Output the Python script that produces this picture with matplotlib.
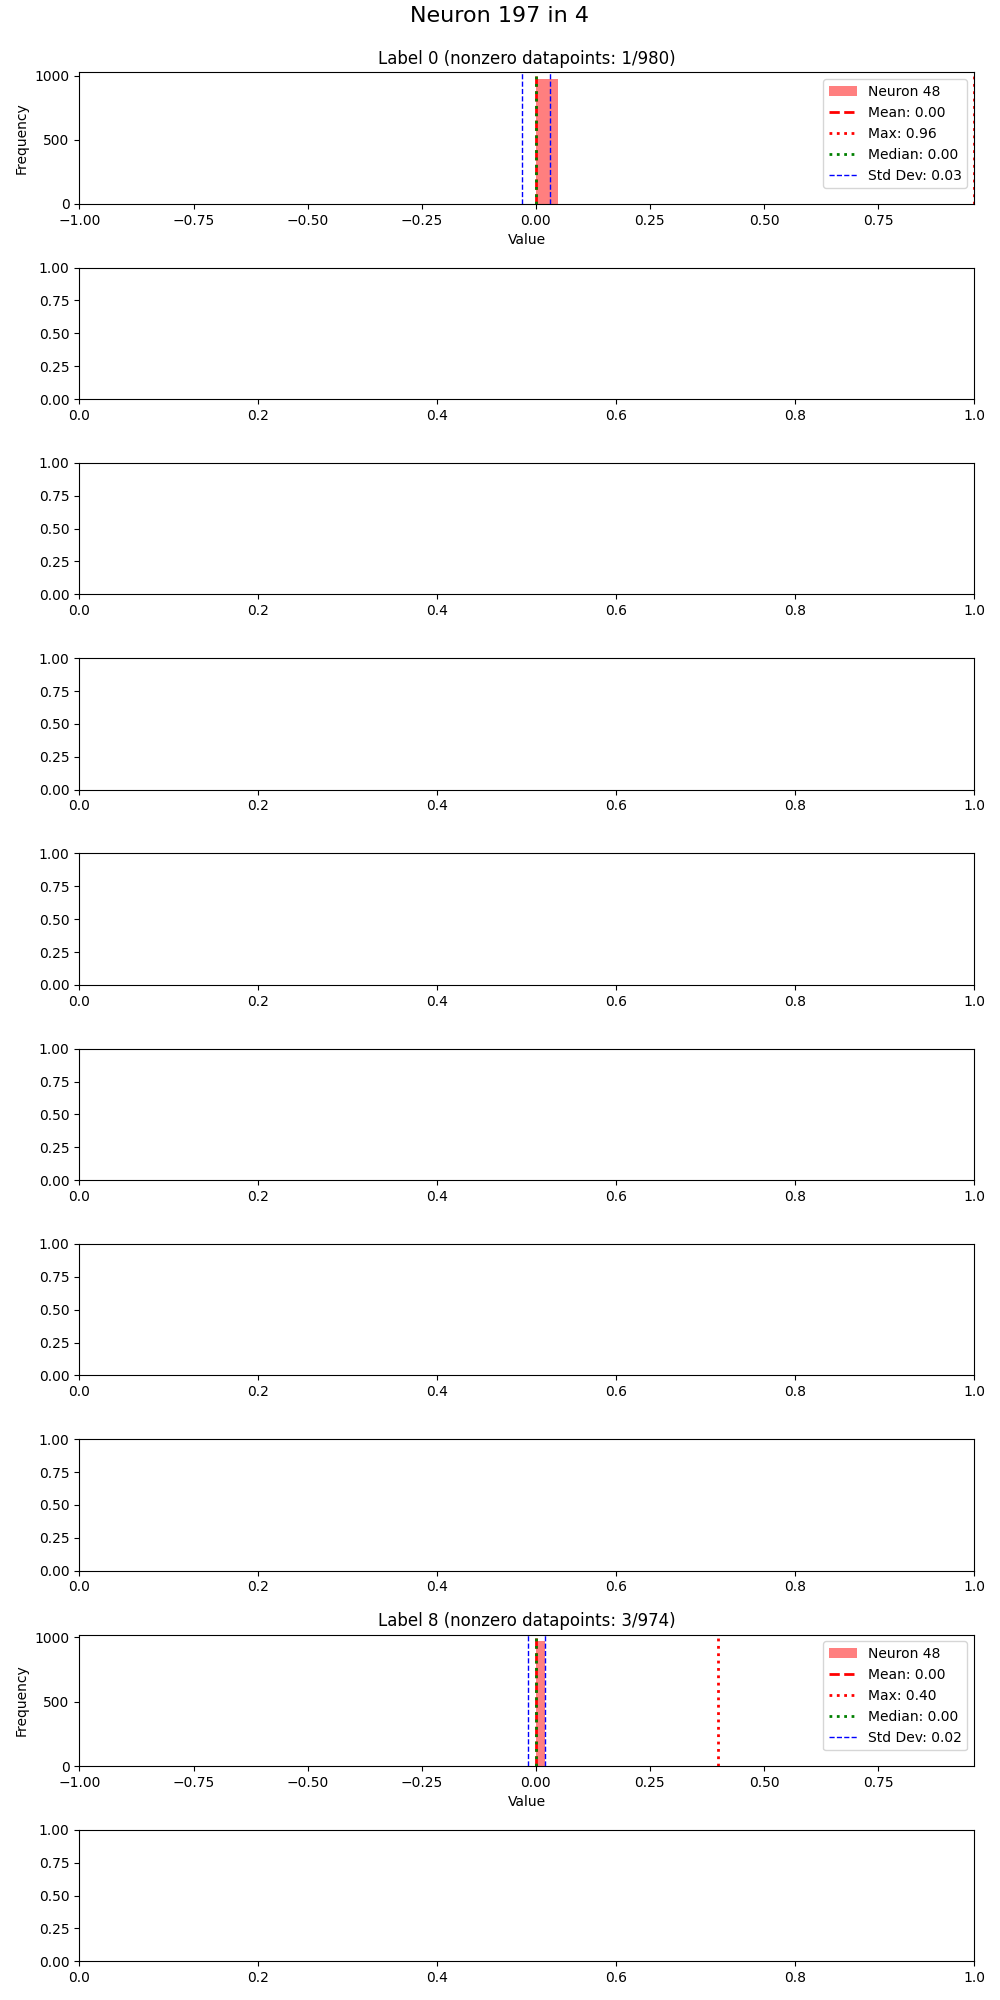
import numpy as np
import matplotlib
matplotlib.use("Agg")
import matplotlib.pyplot as plt

suptitle = "Neuron 197 in 4"
neuron_label = "Neuron 48"
n_rows = 10

# Data per populated label: number of zero datapoints and the nonzero values
label_ids = [0, 8]
zero_counts = [979, 971]
nonzero_values = [[0.96], [0.40, 0.30, 0.28]]
x_limits = (-1.0, 0.96)
n_bins = 20

fig, axes = plt.subplots(n_rows, 1, figsize=(10, 20), dpi=100)

for lab, zc, nz in zip(label_ids, zero_counts, nonzero_values):
    ax = axes[lab]
    data = np.concatenate([np.zeros(zc), np.array(nz)])
    ax.hist(data, bins=n_bins, color="red", alpha=0.5, label=neuron_label)
    mean = data.mean()
    mx = data.max()
    med = np.median(data)
    std = data.std()
    ax.axvline(mean, color="red", linestyle="dashed", linewidth=2, label=f"Mean: {mean:.2f}")
    ax.axvline(mx, color="red", linestyle="dotted", linewidth=2, label=f"Max: {mx:.2f}")
    ax.axvline(med, color="green", linestyle="dotted", linewidth=2, label=f"Median: {med:.2f}")
    ax.axvline(mean + std, color="blue", linestyle="dashed", linewidth=1, label=f"Std Dev: {std:.2f}")
    ax.axvline(mean - std, color="blue", linestyle="dashed", linewidth=1)
    ax.set_xlim(*x_limits)
    ax.set_title(f"Label {lab} (nonzero datapoints: {len(nz)}/{zc + len(nz)})")
    ax.set_xlabel("Value")
    ax.set_ylabel("Frequency")
    ax.legend(loc="upper right")

st = fig.suptitle(suptitle, fontsize=16)
fig.tight_layout()
st.set_y(0.997)
fig.savefig("out.png", dpi=100)
